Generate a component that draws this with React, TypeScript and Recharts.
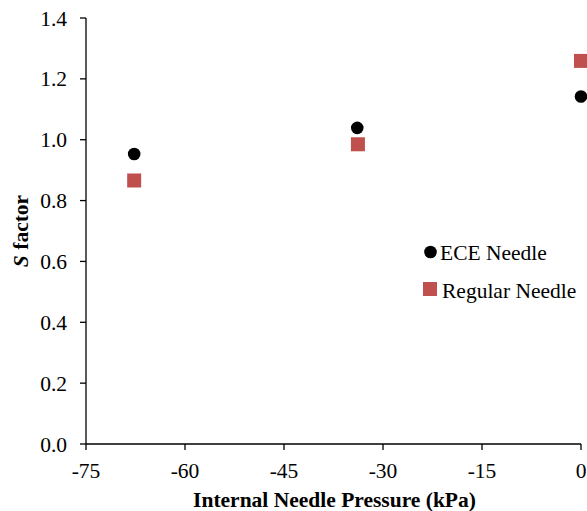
import React from 'react';
import { ScatterChart, Scatter, XAxis, YAxis, Label } from 'recharts';

const eceX = [-67.7, -33.9, 0];
const eceY = [0.953, 1.039, 1.142];
const regX = [-67.7, -33.8, 0];
const regY = [0.866, 0.985, 1.259];
const xTicks = [-75, -60, -45, -30, -15, 0];
const yTicks = [0, 0.2, 0.4, 0.6, 0.8, 1.0, 1.2, 1.4];
const seriesNames = ['ECE Needle', 'Regular Needle'];

const eceData = eceX.map((x, i) => ({ x, y: eceY[i] }));
const regData = regX.map((x, i) => ({ x, y: regY[i] }));

const FONT = 'Liberation Serif';
const FS = 21.5;
const RED = '#C0504D';

const SquareShape = (props: any) => {
  const { cx, cy } = props;
  return <rect x={cx - 7} y={cy - 7} width={14} height={14} fill={RED} />;
};
const CircleShape = (props: any) => {
  const { cx, cy } = props;
  return <circle cx={cx} cy={cy} r={6.3} fill="#000" />;
};

const XTick = (props: any) => {
  const { x, y, payload } = props;
  return (
    <text x={x} y={y + 26} textAnchor="middle" fontFamily={FONT} fontSize={FS} fill="#000">
      {String(payload.value)}
    </text>
  );
};
const YTick = (props: any) => {
  const { x, y, payload } = props;
  return (
    <text x={x - 11} y={y + 7.5} textAnchor="end" fontFamily={FONT} fontSize={FS} fill="#000">
      {Number(payload.value).toFixed(1)}
    </text>
  );
};

const YLabel = () => {
  const x = 28;
  const y = 231;
  return (
    <text x={x} y={y} transform={`rotate(-90, ${x}, ${y})`} textAnchor="middle"
      fontFamily={FONT} fontSize={FS} fontWeight="bold" fill="#000">
      <tspan fontStyle="italic">S</tspan>
      <tspan> factor</tspan>
    </text>
  );
};
const XLabel = () => (
  <text x={334.5} y={507} textAnchor="middle" fontFamily={FONT} fontSize={FS} fontWeight="bold" fill="#000">
    Internal Needle Pressure (kPa)
  </text>
);

export default function App() {
  return (
    <div style={{ position: 'absolute', left: 0, top: 0, width: 587, height: 511, background: '#fff', fontFamily: FONT }}>
      <ScatterChart width={587} height={511} margin={{ top: 18, right: 6, bottom: 0, left: 0 }}>
        <XAxis
          type="number"
          dataKey="x"
          domain={[-75, 0]}
          ticks={xTicks}
          height={67}
          tickSize={6}
          stroke="#000"
          strokeWidth={1.3}
          tick={<XTick />}
          interval={0}
        >
          <Label content={<XLabel />} />
        </XAxis>
        <YAxis
          type="number"
          dataKey="y"
          domain={[0, 1.4]}
          ticks={yTicks}
          width={86}
          tickSize={6}
          stroke="#000"
          strokeWidth={1.3}
          tick={<YTick />}
          interval={0}
        >
          <Label content={<YLabel />} />
        </YAxis>
        <Scatter name={seriesNames[0]} data={eceData} fill="#000" shape={<CircleShape />} isAnimationActive={false} />
        <Scatter name={seriesNames[1]} data={regData} fill={RED} shape={<SquareShape />} isAnimationActive={false} />
      </ScatterChart>
      <svg width={170} height={80} style={{ position: 'absolute', left: 417, top: 235 }}>
        <circle cx={13.5} cy={17} r={6.3} fill="#000" />
        <text x={23} y={25} fontFamily={FONT} fontSize={FS} fill="#000">{seriesNames[0]}</text>
        <rect x={6} y={47} width={14} height={14} fill={RED} />
        <text x={25} y={63} fontFamily={FONT} fontSize={FS} fill="#000">{seriesNames[1]}</text>
      </svg>
    </div>
  );
}
